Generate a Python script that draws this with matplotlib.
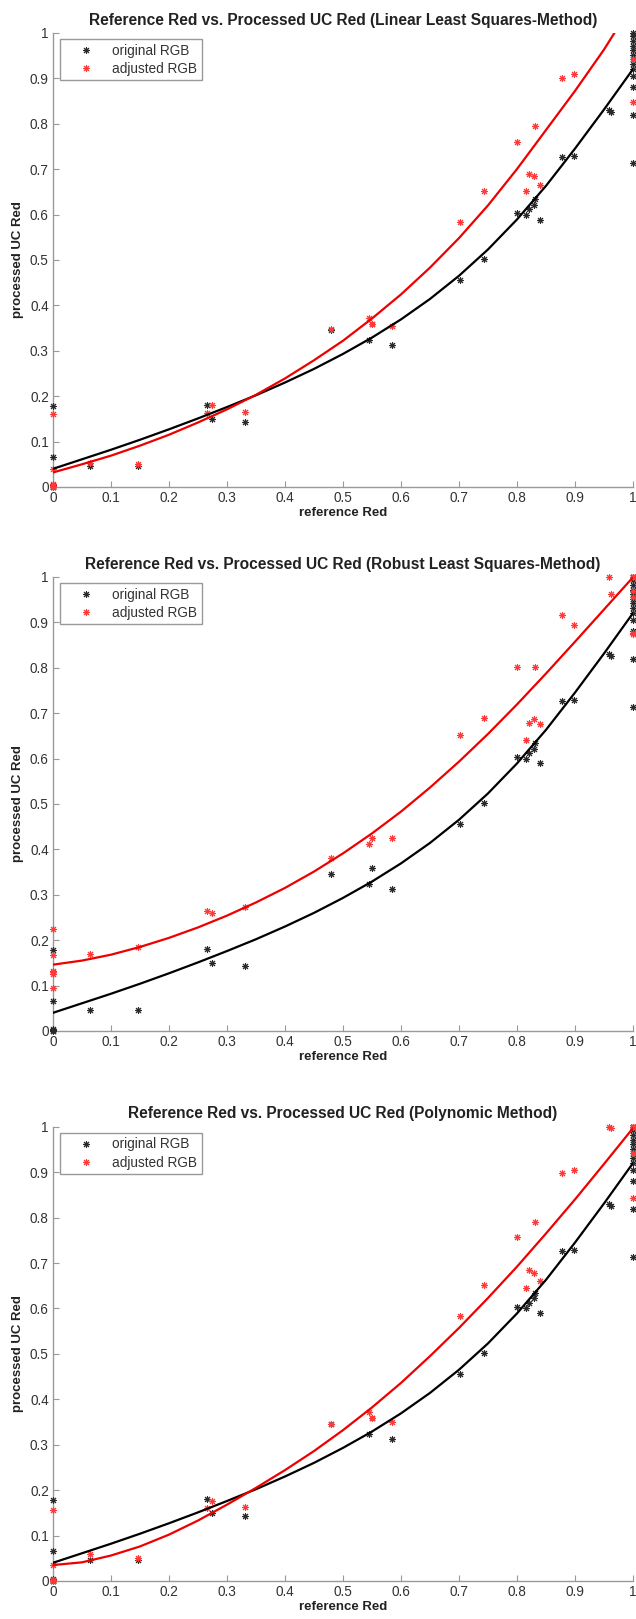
import numpy as np
import matplotlib
matplotlib.use('Agg')
import matplotlib.pyplot as plt

plt.rcParams['font.family'] = ['Liberation Sans', 'DejaVu Sans']

# reference Red values (same for every panel)
ref_red = [0, 0, 0, 0, 0, 0,
           0.064, 0.147, 0.266, 0.274, 0.331, 0.480, 0.545, 0.550, 0.584, 0.701,
           0.743, 0.800, 0.816, 0.820, 0.829, 0.831, 0.840, 0.878, 0.898, 0.958, 0.963,
           1, 1, 1, 1, 1, 1, 1, 1, 1, 1, 1, 1, 1]

# processed UC Red, original RGB
orig_rgb = [0.179, 0.066, 0.004, 0.002, 0.0, 0.0,
            0.047, 0.047, 0.181, 0.150, 0.144, 0.346, 0.324, 0.358, 0.313, 0.455,
            0.501, 0.603, 0.600, 0.612, 0.622, 0.634, 0.589, 0.727, 0.728, 0.830, 0.825,
            0.714, 0.819, 0.881, 0.905, 0.920, 0.932, 0.943, 0.952, 0.962, 0.972, 0.983, 0.993, 1.0]

# adjusted RGB for each method
adj_linear = [0.160, 0.040, 0.006, 0.003, 0.0, 0.0,
              0.053, 0.051, 0.164, 0.180, 0.166, 0.349, 0.372, 0.360, 0.354, 0.583,
              0.652, 0.760, 0.652, 0.690, 0.684, 0.794, 0.664, 0.900, 0.910, 1.02, 1.01,
              0.847, 0.943, 1.02, 1.03, 1.04, 1.05, 1.06, 1.07, 1.08, 1.09, 1.10, 1.11, 1.12]
adj_robust = [0.224, 0.168, 0.132, 0.125, 0.094, 0.130,
              0.170, 0.185, 0.264, 0.259, 0.272, 0.381, 0.411, 0.425, 0.426, 0.651,
              0.690, 0.802, 0.640, 0.678, 0.687, 0.802, 0.675, 0.915, 0.894, 1.0, 0.962,
              0.877, 0.875, 0.955, 0.968, 1.0, 1.0, 1.0, 1.0, 1.0, 1.0, 1.0, 1.0, 1.0]
adj_poly = [0.157, 0.036, 0.003, 0.002, 0.0, 0.0,
            0.059, 0.051, 0.161, 0.177, 0.163, 0.346, 0.372, 0.358, 0.349, 0.583,
            0.651, 0.758, 0.644, 0.685, 0.678, 0.791, 0.661, 0.899, 0.906, 1.0, 0.998,
            0.844, 0.942, 1.0, 1.0, 1.0, 1.0, 1.0, 1.0, 1.0, 1.0, 1.0, 1.0, 1.0]

# fitted curves, read at steps of 0.05
curve_x = [0, 0.05, 0.1, 0.15, 0.2, 0.25, 0.3, 0.35, 0.4, 0.45, 0.5,
           0.55, 0.6, 0.65, 0.7, 0.75, 0.8, 0.85, 0.9, 0.95, 1.0]
fit_orig = [0.040, 0.061, 0.082, 0.104, 0.127, 0.151, 0.176, 0.202, 0.230, 0.260, 0.293,
            0.329, 0.369, 0.414, 0.465, 0.523, 0.589, 0.663, 0.745, 0.831, 0.920]
fit_linear = [0.032, 0.050, 0.069, 0.091, 0.115, 0.142, 0.171, 0.203, 0.239, 0.279, 0.322,
              0.371, 0.424, 0.483, 0.548, 0.620, 0.700, 0.786, 0.872, 0.963, 1.065]
fit_robust = [0.146, 0.155, 0.168, 0.185, 0.205, 0.228, 0.254, 0.283, 0.315, 0.351, 0.391,
              0.435, 0.483, 0.536, 0.593, 0.654, 0.719, 0.787, 0.857, 0.928, 0.999]
fit_poly = [0.035, 0.041, 0.056, 0.076, 0.102, 0.133, 0.168, 0.205, 0.244, 0.286, 0.332,
            0.382, 0.436, 0.495, 0.557, 0.623, 0.692, 0.765, 0.840, 0.918, 0.997]

panels = [
    ('Reference Red vs. Processed UC Red (Linear Least Squares-Method)', adj_linear, fit_linear, 0.6992),
    ('Reference Red vs. Processed UC Red (Robust Least Squares-Method)', adj_robust, fit_robust, 0.3632),
    ('Reference Red vs. Processed UC Red (Polynomic Method)', adj_poly, fit_poly, 0.0235),
]

fig = plt.figure(figsize=(6.36, 16.19), dpi=100)
xr = np.array(ref_red)
yo = np.array(orig_rgb)
ticks = np.round(np.arange(0, 1.01, 0.1), 1)
tick_labels = ['0'] + ['%.1f' % t for t in ticks[1:-1]] + ['1']

for title, adj, fit, bottom in panels:
    ax = fig.add_axes([0.0833, bottom, 0.9119, 0.2805])
    ya = np.array(adj)
    m1 = yo <= 1.0
    m2 = ya <= 1.0
    h1, = ax.plot(xr[m1], yo[m1], ls='none', marker=(8, 2, 0), ms=5, mew=0.75,
                  color='#2a2a2a', clip_on=False, zorder=3, label='original RGB')
    h2, = ax.plot(xr[m2], ya[m2], ls='none', marker=(8, 2, 0), ms=5, mew=0.75,
                  color='#ff3838', clip_on=False, zorder=3, label='adjusted RGB')
    ax.plot(curve_x, fit_orig, color='black', lw=1.6, zorder=4)
    ax.plot(curve_x, fit, color='#ee0000', lw=1.6, zorder=4)

    ax.set_xlim(0, 1)
    ax.set_ylim(0, 1)
    ax.set_xticks(ticks)
    ax.set_xticklabels(tick_labels)
    ax.set_yticks(ticks)
    ax.set_yticklabels(tick_labels)
    ax.tick_params(direction='in', length=4, width=0.8, color='#999999',
                   labelsize=9.8, labelcolor='#333333', pad=3)
    for s in ['top', 'right']:
        ax.spines[s].set_visible(False)
    for s in ['left', 'bottom']:
        ax.spines[s].set_color('#999999')
        ax.spines[s].set_linewidth(1.0)

    ax.set_title(title, fontsize=11.2, fontweight='bold', color='#222222', pad=6)
    ax.set_xlabel('reference Red', fontsize=9.5, fontweight='bold', color='#222222', labelpad=1.5)
    ax.set_ylabel('processed UC Red', fontsize=9.5, fontweight='bold', color='#222222', labelpad=4)

    leg = ax.legend(handles=[h1, h2], loc='upper left', bbox_to_anchor=(0.012, 0.987),
                    borderaxespad=0, fontsize=9.8, fancybox=False, framealpha=1,
                    edgecolor='#999999', borderpad=0.35, handlelength=3.2,
                    handletextpad=0.3, labelspacing=0.3, numpoints=1)
    leg.get_frame().set_linewidth(1.0)
    for t in leg.get_texts():
        t.set_color('#333333')

fig.savefig('out.png', dpi=100)
